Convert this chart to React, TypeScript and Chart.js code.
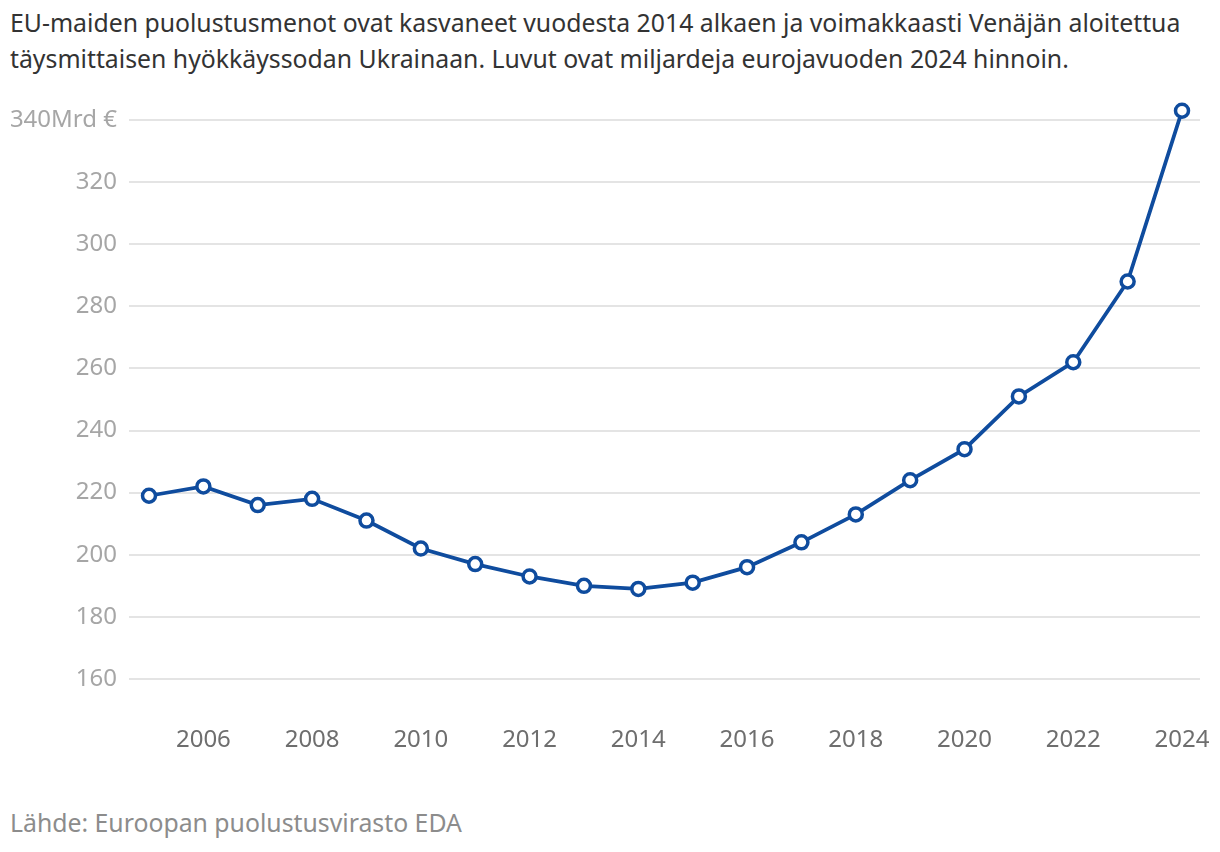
import React, { useEffect, useRef } from "react";
import { Chart, registerables } from "chart.js";

Chart.register(...registerables);

const titleLines = [
  "EU-maiden puolustusmenot ovat kasvaneet vuodesta 2014 alkaen ja voimakkaasti Venäjän aloitettua",
  "täysmittaisen hyökkäyssodan Ukrainaan. Luvut ovat miljardeja eurojavuoden 2024 hinnoin.",
];
const sourceText = "Lähde: Euroopan puolustusvirasto EDA";

const years = [2005, 2006, 2007, 2008, 2009, 2010, 2011, 2012, 2013, 2014, 2015, 2016, 2017, 2018, 2019, 2020, 2021, 2022, 2023, 2024];
const spending = [219, 222, 216, 218, 211, 202, 197, 193, 190, 189, 191, 196, 204, 213, 224, 234, 251, 262, 288, 343];
const xTickValues = [2006, 2008, 2010, 2012, 2014, 2016, 2018, 2020, 2022, 2024];
const yTickValues = [160, 180, 200, 220, 240, 260, 280, 300, 320, 340];

const FONT = "'Noto Sans', sans-serif";

export default function App() {
  const canvasRef = useRef<HTMLCanvasElement | null>(null);

  useEffect(() => {
    document.body.style.margin = "0";
    const canvas = canvasRef.current;
    if (!canvas) return;
    const chart = new Chart(canvas, {
      type: "line",
      data: {
        datasets: [
          {
            data: years.map((y, i) => ({ x: y, y: spending[i] })),
            borderColor: "#0f4c9e",
            borderWidth: 3.8,
            pointBackgroundColor: "#ffffff",
            pointBorderColor: "#0f4c9e",
            pointBorderWidth: 3.5,
            pointRadius: 6.5,
            tension: 0,
          },
        ],
      },
      options: {
        animation: false,
        responsive: false,
        maintainAspectRatio: false,
        layout: { padding: { top: 10, right: 40, left: 0, bottom: 0 } },
        plugins: { legend: { display: false }, tooltip: { enabled: false } },
        scales: {
          x: {
            type: "linear",
            min: 2004.632,
            max: 2024.331,
            afterBuildTicks: (scale: any) => {
              scale.ticks = xTickValues.map((v) => ({ value: v }));
            },
            afterFit: (scale: any) => {
              scale.height = 60;
            },
            grid: { display: false, drawTicks: false },
            border: { display: false },
            ticks: {
              autoSkip: false,
              maxRotation: 0,
              padding: 16,
              color: "#6e6e6e",
              font: { family: FONT, size: 24 },
              callback: (v: any) => String(v),
            },
          },
          y: {
            min: 150,
            max: 346,
            afterBuildTicks: (scale: any) => {
              scale.ticks = yTickValues.map((v) => ({ value: v }));
            },
            afterFit: (scale: any) => {
              scale.width = 129;
            },
            grid: { color: "#e4e4e4", lineWidth: 2, drawTicks: false },
            border: { display: false },
            ticks: {
              padding: 12,
              color: "#a6a6a6",
              font: { family: FONT, size: 24 },
              callback: (v: any) => (v === 340 ? "340Mrd €" : String(v)),
            },
          },
        },
      },
    });
    return () => chart.destroy();
  }, []);

  return (
    <div style={{ position: "relative", width: 1220, height: 852, overflow: "hidden", fontFamily: FONT, background: "#fff" }}>
      <div
        style={{
          position: "absolute",
          left: 10,
          top: 4,
          fontSize: 24.8,
          lineHeight: "36px",
          color: "#333333",
          whiteSpace: "nowrap",
        }}
      >
        {titleLines.map((l, i) => (
          <div key={i}>{l}</div>
        ))}
      </div>
      <canvas
        ref={canvasRef}
        width={1240}
        height={695}
        style={{ position: "absolute", left: 0, top: 75, width: 1240, height: 695 }}
      />
      <div
        style={{
          position: "absolute",
          left: 10,
          top: 806,
          fontSize: 24.8,
          lineHeight: "32px",
          color: "#8c8c8c",
          whiteSpace: "nowrap",
        }}
      >
        {sourceText}
      </div>
    </div>
  );
}
